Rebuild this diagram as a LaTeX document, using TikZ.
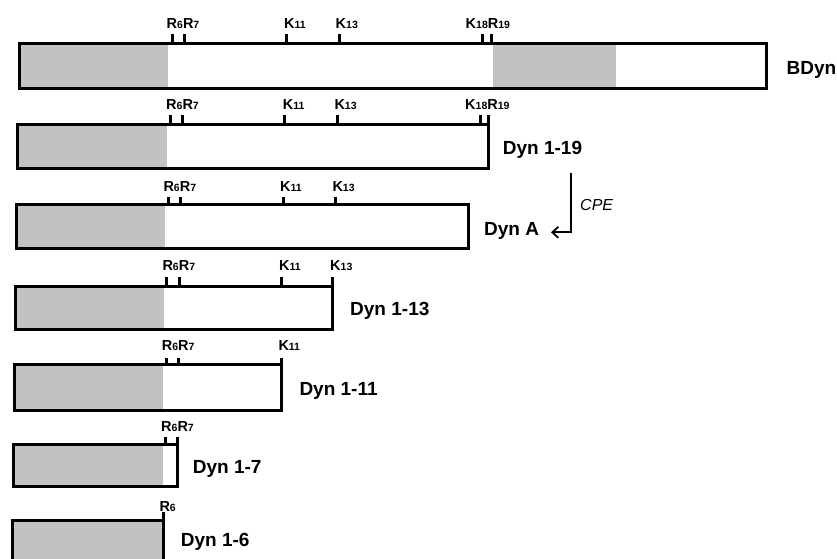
\documentclass[tikz,border=0pt]{standalone}
\usepackage{fontspec}
\setmainfont{Liberation Sans}
\usetikzlibrary{arrows.meta}
\newcommand\idx[1]{{\fontsize{10.5}{10.5}\selectfont #1}}
\tikzset{
  barline/.style={draw=black, line width=3pt},
  barfill/.style={fill=black!24},
  tickmark/.style={draw=black, line width=3pt},
  ticklabel/.style={anchor=base west, inner sep=0pt, font=\bfseries\fontsize{14.5}{14.5}\selectfont},
  namelabel/.style={anchor=base west, inner sep=0pt, font=\bfseries\fontsize{19}{19}\selectfont},
}
\begin{document}
\begin{tikzpicture}[x=1pt,y=-1pt]
\useasboundingbox (0,0) rectangle (837,558);

% ---- BDyn
\fill[barfill] (19.5,43.5) rectangle (168,88);
\fill[barfill] (493,43.5) rectangle (616,88);
\draw[barline] (19.5,43.5) rectangle (766.5,88);
\foreach \x in {172,184,286,339,482,491} \draw[tickmark] (\x,43.5) -- (\x,33.5);
\node[ticklabel] (b1r) at (166.5,28) {R\idx{6}R\idx{7}};
\node[ticklabel] (b1k11) at (284,28) {K\idx{11}};
\node[ticklabel] (b1k13) at (335.5,28) {K\idx{13}};
\node[ticklabel] (b1k18) at (465.5,28) {K\idx{18}R\idx{19}};
\node[namelabel] (bdyn) at (786.5,74.3) {BDyn};

% ---- Dyn 1-19
\fill[barfill] (17.5,124.5) rectangle (167,168.5);
\draw[barline] (17.5,124.5) rectangle (488.5,168.5);
\foreach \x in {170.3,182.3,284.7,337.3,480,488.5} \draw[tickmark] (\x,124.5) -- (\x,115);
\node[ticklabel] (b2r) at (166,109) {R\idx{6}R\idx{7}};
\node[ticklabel] (b2k11) at (282.7,109) {K\idx{11}};
\node[ticklabel] (b2k13) at (334.3,109) {K\idx{13}};
\node[ticklabel] (b2k18) at (465,109) {K\idx{18}R\idx{19}};
\node[namelabel] (dyn119) at (502.7,154.3) {Dyn 1-19};

% ---- Dyn A
\fill[barfill] (16.5,204.5) rectangle (165,248.5);
\draw[barline] (16.5,204.5) rectangle (468.5,248.5);
\foreach \x in {168.3,180.3,283,335} \draw[tickmark] (\x,204.5) -- (\x,196.5);
\node[ticklabel] (b3r) at (163.3,191.5) {R\idx{6}R\idx{7}};
\node[ticklabel] (b3k11) at (280,191.5) {K\idx{11}};
\node[ticklabel] (b3k13) at (332.3,191.5) {K\idx{13}};
\node[namelabel] (dyna) at (484,235.7) {Dyn A};

% CPE cleavage arrow
\coordinate (cpetop) at (571,173);
\coordinate (cpeend) at (551,232.3);
\draw[line width=1.9pt, -{Straight Barb[length=6pt,width=11pt,line width=1.8pt]}] (cpetop) |- (cpeend);
\node[anchor=base west, inner sep=0pt, font=\itshape\fontsize{16}{16}\selectfont] (cpe) at (580,210) {CPE};

% ---- Dyn 1-13
\fill[barfill] (15.5,286.5) rectangle (163.5,329.5);
\draw[barline] (15.5,286.5) rectangle (332.5,329.5);
\foreach \x in {166.7,179,281.7,332.5} \draw[tickmark] (\x,286.5) -- (\x,277);
\node[ticklabel] (b4r) at (162.3,270.5) {R\idx{6}R\idx{7}};
\node[ticklabel] (b4k11) at (279,270.5) {K\idx{11}};
\node[ticklabel] (b4k13) at (330,270.5) {K\idx{13}};
\node[namelabel] (dyn113) at (350,315) {Dyn 1-13};

% ---- Dyn 1-11
\fill[barfill] (14,364) rectangle (163,410.5);
\draw[barline] (14,364) rectangle (281,410.5);
\foreach \x in {166,178,281} \draw[tickmark] (\x,364) -- (\x,357.5);
\node[ticklabel] (b5r) at (161.7,350) {R\idx{6}R\idx{7}};
\node[ticklabel] (b5k11) at (278.3,350) {K\idx{11}};
\node[namelabel] (dyn111) at (299.3,395) {Dyn 1-11};

% ---- Dyn 1-7
\fill[barfill] (13,444) rectangle (163,486.5);
\draw[barline] (13,444) rectangle (177.5,486.5);
\foreach \x in {165,177.5} \draw[tickmark] (\x,444) -- (\x,436.5);
\node[ticklabel] (b6r) at (161,431.5) {R\idx{6}R\idx{7}};
\node[namelabel] (dyn17) at (192.7,473.3) {Dyn 1-7};

% ---- Dyn 1-6
\fill[barfill] (12,520) rectangle (163,575);
\draw[barline] (12,520) rectangle (163,575);
\draw[tickmark] (163,520) -- (163,512);
\node[ticklabel] (b7r) at (159.3,511) {R\idx{6}};
\node[namelabel] (dyn16) at (180.7,546.7) {Dyn 1-6};
\end{tikzpicture}
\end{document}
